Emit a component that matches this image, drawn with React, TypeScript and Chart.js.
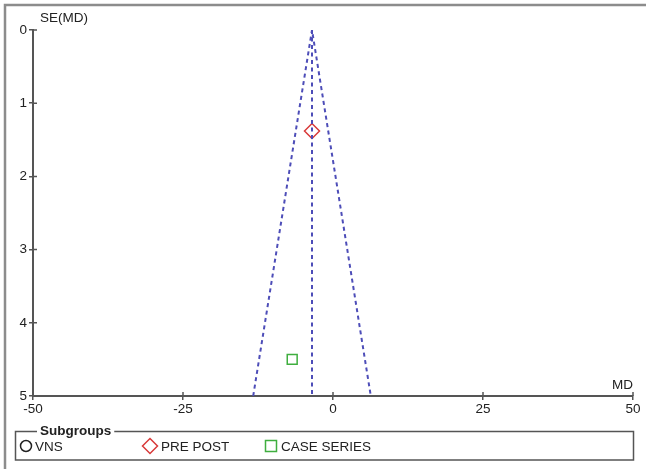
import React, { useEffect, useRef } from "react";
import { Chart, registerables } from "chart.js";

Chart.register(...registerables);

// ---- data ----
const xTickValues = [-50, -25, 0, 25, 50];
const yTickValues = [0, 1, 2, 3, 4, 5];
const subgroupNames = ["VNS", "PRE POST", "CASE SERIES"];
const vnsMD: number[] = [];
const vnsSE: number[] = [];
const prePostMD = [-3.5];
const prePostSE = [1.38];
const caseSeriesMD = [-6.8];
const caseSeriesSE = [4.5];
const pooledMD = -3.5;
const funnelLowerMD = -13.3;
const funnelUpperMD = 6.3;
const maxSE = 5;
const xAxisTitle = "MD";
const yAxisTitle = "SE(MD)";
const legendTitle = "Subgroups";

const FONT = "'Liberation Sans', Arial, sans-serif";
const FS = 13.5;
const AXIS = "#555";
const TEXT = "#222";
const FUNNEL = "#4d4db8";
const RED = "#d83a3a";
const GREEN = "#3fae3f";

const toPts = (xs: number[], ys: number[]) => xs.map((x, i) => ({ x, y: ys[i] }));

const decorPlugin = {
  id: "decor",
  beforeDraw(chart: any) {
    const ctx = chart.ctx;
    ctx.save();
    ctx.fillStyle = "#fff";
    ctx.fillRect(0, 0, chart.width, chart.height);
    ctx.strokeStyle = "#8c8c8c";
    ctx.lineWidth = 2.5;
    ctx.beginPath();
    ctx.moveTo(5, chart.height);
    ctx.lineTo(5, 5);
    ctx.lineTo(chart.width, 5);
    ctx.stroke();
    ctx.restore();
  },
  afterDraw(chart: any) {
    const ctx = chart.ctx;
    const xs = chart.scales.x;
    const ys = chart.scales.y;
    const area = chart.chartArea;
    ctx.save();
    // inward tick parts
    ctx.strokeStyle = AXIS;
    ctx.lineWidth = 1.5;
    ctx.beginPath();
    xTickValues.forEach((v) => {
      const px = xs.getPixelForValue(v);
      ctx.moveTo(px, area.bottom);
      ctx.lineTo(px, area.bottom - 4);
    });
    yTickValues.forEach((v) => {
      const py = ys.getPixelForValue(v);
      ctx.moveTo(area.left, py);
      ctx.lineTo(area.left + 4, py);
    });
    ctx.stroke();

    // axis titles
    ctx.fillStyle = TEXT;
    ctx.font = `${FS}px ${FONT}`;
    ctx.textBaseline = "middle";
    ctx.textAlign = "left";
    ctx.fillText(yAxisTitle, area.left + 7, area.top - 12);
    ctx.textAlign = "right";
    ctx.fillText(xAxisTitle, area.right, area.bottom - 11);

    // legend
    const bx = 15.5, by = 431.5, bw = 618, bh = 28.5;
    ctx.strokeStyle = "#555";
    ctx.lineWidth = 1.5;
    ctx.strokeRect(bx, by, bw, bh);
    ctx.font = `bold ${FS}px ${FONT}`;
    const tw = ctx.measureText(legendTitle).width;
    ctx.fillStyle = "#fff";
    ctx.fillRect(37, by - 3, tw + 6, 6);
    ctx.fillStyle = TEXT;
    ctx.textAlign = "left";
    ctx.fillText(legendTitle, 40, by);

    const iy = 446;
    const items = [
      { x: 26, style: "circle", color: "#222", gap: 9 },
      { x: 150, style: "diamond", color: RED, gap: 11 },
      { x: 271, style: "square", color: GREEN, gap: 10 },
    ];
    ctx.font = `${FS}px ${FONT}`;
    items.forEach((it, i) => {
      ctx.strokeStyle = it.color;
      ctx.lineWidth = 1.5;
      ctx.beginPath();
      if (it.style === "circle") {
        ctx.arc(it.x, iy, 5.5, 0, Math.PI * 2);
      } else if (it.style === "diamond") {
        ctx.moveTo(it.x, iy - 7.5);
        ctx.lineTo(it.x + 7.5, iy);
        ctx.lineTo(it.x, iy + 7.5);
        ctx.lineTo(it.x - 7.5, iy);
        ctx.closePath();
      } else {
        ctx.rect(it.x - 5.5, iy - 5.5, 11, 11);
      }
      ctx.stroke();
      ctx.fillStyle = TEXT;
      ctx.fillText(subgroupNames[i], it.x + it.gap, iy + 1);
    });
    ctx.restore();
  },
};

export default function App() {
  const ref = useRef<HTMLCanvasElement | null>(null);

  useEffect(() => {
    document.body.style.margin = "0";
    const canvas = ref.current;
    if (!canvas) return;
    const lineStyle = {
      showLine: true,
      borderColor: FUNNEL,
      borderWidth: 2,
      borderDash: [4, 3.5],
      pointRadius: 0,
      fill: false,
    };
    const chart = new Chart(canvas, {
      type: "scatter",
      data: {
        datasets: [
          {
            label: "funnel",
            data: [
              { x: funnelLowerMD, y: maxSE },
              { x: pooledMD, y: 0 },
              { x: funnelUpperMD, y: maxSE },
            ],
            ...lineStyle,
          },
          {
            label: "pooled",
            data: [
              { x: pooledMD, y: 0 },
              { x: pooledMD, y: maxSE },
            ],
            ...lineStyle,
          },
          {
            label: subgroupNames[0],
            data: toPts(vnsMD, vnsSE),
            pointStyle: "circle",
            pointRadius: 5.5,
            borderColor: "#222",
            backgroundColor: "transparent",
            borderWidth: 1.5,
          },
          {
            label: subgroupNames[1],
            data: toPts(prePostMD, prePostSE),
            pointStyle: "rectRot",
            pointRadius: 7.5,
            borderColor: RED,
            backgroundColor: "transparent",
            borderWidth: 1.5,
          },
          {
            label: subgroupNames[2],
            data: toPts(caseSeriesMD, caseSeriesSE),
            pointStyle: "rect",
            pointRadius: 7,
            borderColor: GREEN,
            backgroundColor: "transparent",
            borderWidth: 1.5,
          },
        ],
      },
      options: {
        responsive: false,
        animation: false,
        devicePixelRatio: 1,
        layout: { padding: { left: 0, right: 13, top: 30, bottom: 49 } },
        plugins: { legend: { display: false }, tooltip: { enabled: false } },
        scales: {
          x: {
            type: "linear",
            position: "bottom",
            min: -50,
            max: 50,
            afterBuildTicks: (s: any) => {
              s.ticks = xTickValues.map((v) => ({ value: v }));
            },
            afterFit: (s: any) => {
              s.height = 24;
            },
            ticks: {
              font: { family: FONT, size: FS },
              color: TEXT,
              padding: 1,
              maxRotation: 0,
            },
            grid: {
              display: true,
              drawOnChartArea: false,
              drawTicks: true,
              tickLength: 4,
              color: AXIS,
              lineWidth: 1.5,
            },
            border: { display: true, color: AXIS, width: 2 },
          },
          y: {
            type: "linear",
            position: "left",
            min: 0,
            max: maxSE,
            reverse: true,
            afterBuildTicks: (s: any) => {
              s.ticks = yTickValues.map((v) => ({ value: v }));
            },
            afterFit: (s: any) => {
              s.width = 33;
            },
            ticks: {
              font: { family: FONT, size: FS },
              color: TEXT,
              padding: 2,
            },
            grid: {
              display: true,
              drawOnChartArea: false,
              drawTicks: true,
              tickLength: 4,
              color: AXIS,
              lineWidth: 1.5,
            },
            border: { display: true, color: AXIS, width: 2 },
          },
        },
      },
      plugins: [decorPlugin],
    } as any);
    return () => chart.destroy();
  }, []);

  return (
    <div style={{ position: "absolute", left: 0, top: 0, width: 646, height: 469 }}>
      <canvas ref={ref} width={646} height={469} />
    </div>
  );
}
